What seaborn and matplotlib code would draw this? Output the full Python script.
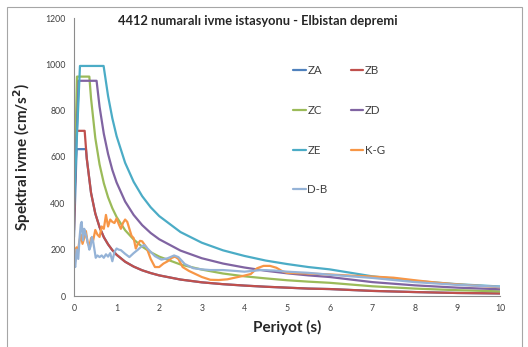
import matplotlib
matplotlib.use("Agg")
import matplotlib.pyplot as plt
from matplotlib.patches import Rectangle
import seaborn as sns
import pandas as pd

# ---------------- data ----------------
series_names = ["ZA", "ZB", "ZC", "ZD", "ZE", "K-G", "D-B"]

tail_T = [1.2, 1.4, 1.6, 1.8, 2.0, 2.5, 3.0, 3.5, 4.0, 4.5, 5.0, 5.5, 6.0, 7.0, 8.0, 9.0, 10.0]

za_T = [0, 0.06, 0.28, 0.3, 0.4, 0.5, 0.6, 0.7, 0.8, 0.9, 1.0] + tail_T
za_SA = [254, 634, 634, 593, 445, 356, 297, 254, 223, 198, 178,
         148, 127, 111, 99, 89, 71, 59, 51, 45, 40, 36, 32, 30, 22, 17, 13, 11]

zb_T = [0, 0.05, 0.25, 0.3, 0.4, 0.5, 0.6, 0.7, 0.8, 0.9, 1.0] + tail_T
zb_SA = [285, 713, 713, 593, 445, 356, 297, 254, 223, 198, 178,
         148, 127, 111, 99, 89, 71, 59, 51, 45, 40, 36, 32, 30, 22, 17, 13, 11]

zc_T = [0, 0.07, 0.36, 0.4, 0.5, 0.6, 0.7, 0.8, 0.9, 1.0] + tail_T
zc_SA = [379, 947, 947, 853, 682, 568, 487, 426, 379, 341,
         284, 244, 213, 189, 170, 136, 114, 97, 85, 76, 68, 62, 57, 42, 32, 25, 20]

zd_T = [0, 0.11, 0.53, 0.6, 0.7, 0.8, 0.9, 1.0] + tail_T
zd_SA = [372, 929, 929, 817, 700, 613, 544, 490,
         408, 350, 306, 272, 245, 196, 163, 140, 123, 109, 98, 89, 82, 60, 46, 36, 29]

ze_T = [0, 0.14, 0.695, 0.8, 0.9, 1.0] + tail_T
ze_SA = [397, 993, 993, 863, 767, 690,
         575, 493, 431, 383, 345, 276, 230, 197, 173, 153, 138, 125, 115, 85, 65, 51, 41]

kg_T = [0.0, 0.03, 0.06, 0.09, 0.12, 0.16, 0.2, 0.24, 0.28, 0.32, 0.36, 0.4, 0.45, 0.5,
        0.55, 0.6, 0.65, 0.7, 0.75, 0.8, 0.85, 0.9, 0.95, 1.0, 1.05, 1.1, 1.15, 1.2,
        1.25, 1.3, 1.35, 1.4, 1.45, 1.5, 1.55, 1.6, 1.7, 1.8, 1.9, 2.0, 2.1, 2.2, 2.3,
        2.37, 2.45, 2.55, 2.7, 2.85, 3.0, 3.2, 3.4, 3.6, 3.8, 4.0, 4.15, 4.3, 4.45,
        4.6, 4.75, 4.9, 5.0, 5.5, 6.0, 6.5, 7.0, 7.5, 8.0, 8.5, 9.0, 9.5, 10.0]
kg_SA = [160, 150, 210, 185, 230, 265, 225, 250, 280, 230, 215, 250, 240, 285,
         265, 255, 300, 290, 350, 300, 330, 320, 315, 335, 310, 290, 315, 330,
         320, 290, 260, 250, 205, 225, 238, 236, 210, 160, 125, 125, 140, 150, 165,
         170, 160, 125, 108, 95, 82, 70, 69, 72, 80, 88, 95, 120, 130,
         130, 122, 106, 100, 97, 93, 88, 84, 79, 68, 58, 50, 44, 38]

db_T = [0.0, 0.03, 0.06, 0.1, 0.13, 0.16, 0.18, 0.21, 0.24, 0.27, 0.3, 0.33, 0.36,
        0.39, 0.42, 0.45, 0.48, 0.51, 0.55, 0.6, 0.65, 0.7, 0.75, 0.8, 0.85, 0.9,
        0.95, 1.0, 1.05, 1.1, 1.15, 1.2, 1.3, 1.4, 1.5, 1.58, 1.65, 1.75, 1.9, 2.05,
        2.2, 2.35, 2.45, 2.6, 2.8, 3.0, 3.2, 3.5, 3.8, 4.0, 4.4, 4.7, 5.0, 5.5, 6.0,
        7.0, 8.0, 9.0, 10.0]
db_SA = [140, 125, 200, 160, 250, 310, 320, 240, 290, 270, 250, 225, 200,
         215, 255, 235, 200, 165, 175, 168, 175, 165, 180, 170, 185, 150,
         190, 205, 200, 198, 190, 182, 168, 185, 200, 213, 220, 200, 172, 157,
         163, 175, 168, 138, 120, 115, 112, 112, 108, 105, 112, 110, 105, 100, 92,
         78, 60, 48, 40]

x_ticks = [0, 1, 2, 3, 4, 5, 6, 7, 8, 9, 10]
y_ticks = [0, 200, 400, 600, 800, 1000, 1200]

colors = {"ZA": "#4F81BD", "ZB": "#C0504D", "ZC": "#9BBB59", "ZD": "#8064A2",
          "ZE": "#4BACC6", "K-G": "#F79646", "D-B": "#95B3D7"}

# ---------------- build table ----------------
parts = []
for name, T, SA in [("ZA", za_T, za_SA), ("ZB", zb_T, zb_SA), ("ZC", zc_T, zc_SA),
                    ("ZD", zd_T, zd_SA), ("ZE", ze_T, ze_SA), ("K-G", kg_T, kg_SA),
                    ("D-B", db_T, db_SA)]:
    parts.append(pd.DataFrame({"T": T, "SA": SA, "Seri": name}))
df = pd.concat(parts, ignore_index=True)

# ---------------- figure ----------------
sns.set_style("white")
plt.rcParams["font.family"] = ["Lato", "DejaVu Sans"]

W, H = 528, 347
fig = plt.figure(figsize=(W / 100, H / 100), dpi=100)
ax = fig.add_axes([74 / W, (H - 296) / H, 426 / W, 278 / H])

sns.lineplot(data=df, x="T", y="SA", hue="Seri", hue_order=series_names,
             palette=colors, estimator=None, sort=False, linewidth=1.6, ax=ax)

ax.set_xlim(0, 10)
ax.set_ylim(0, 1200)
ax.set_xticks(x_ticks)
ax.set_yticks(y_ticks)
ax.tick_params(axis="both", length=0, labelsize=6.3, colors="#404040", pad=6)
for s in ["top", "right"]:
    ax.spines[s].set_visible(False)
for s in ["left", "bottom"]:
    ax.spines[s].set_color("#8c8c8c")
    ax.spines[s].set_linewidth(0.8)

ax.set_xlabel("Periyot (s)", fontsize=11, fontweight="bold", labelpad=5)
ax.set_ylabel("Spektral ivme (cm/s$^\\mathbf{2}$)", fontsize=11, fontweight="bold", labelpad=9)

fig.text(258 / W, 1 - 21 / H, "4412 numaralı ivme istasyonu - Elbistan depremi",
         ha="center", va="center", fontsize=9.3, fontweight="bold")

handles, labels = ax.get_legend_handles_labels()
hmap = dict(zip(labels, handles))
order = ["ZA", "ZC", "ZE", "D-B", "ZB", "ZD", "K-G"]
leg = ax.legend([hmap[k] for k in order], order, ncol=2, frameon=False,
                loc="upper left", bbox_to_anchor=(293 / W, 1 - 65 / H),
                bbox_transform=fig.transFigure, borderpad=0, borderaxespad=0,
                handlelength=1.1, handletextpad=0.15, columnspacing=2.0,
                labelspacing=2.5, fontsize=8.3)
for t in leg.get_texts():
    t.set_color("#404040")

fig.add_artist(Rectangle((7 / W, -0.05), (522 - 7) / W, 1.05 - 7 / H,
                         transform=fig.transFigure, fill=False,
                         edgecolor="#a6a6a6", linewidth=0.8))

fig.savefig("out.png", dpi=100)
